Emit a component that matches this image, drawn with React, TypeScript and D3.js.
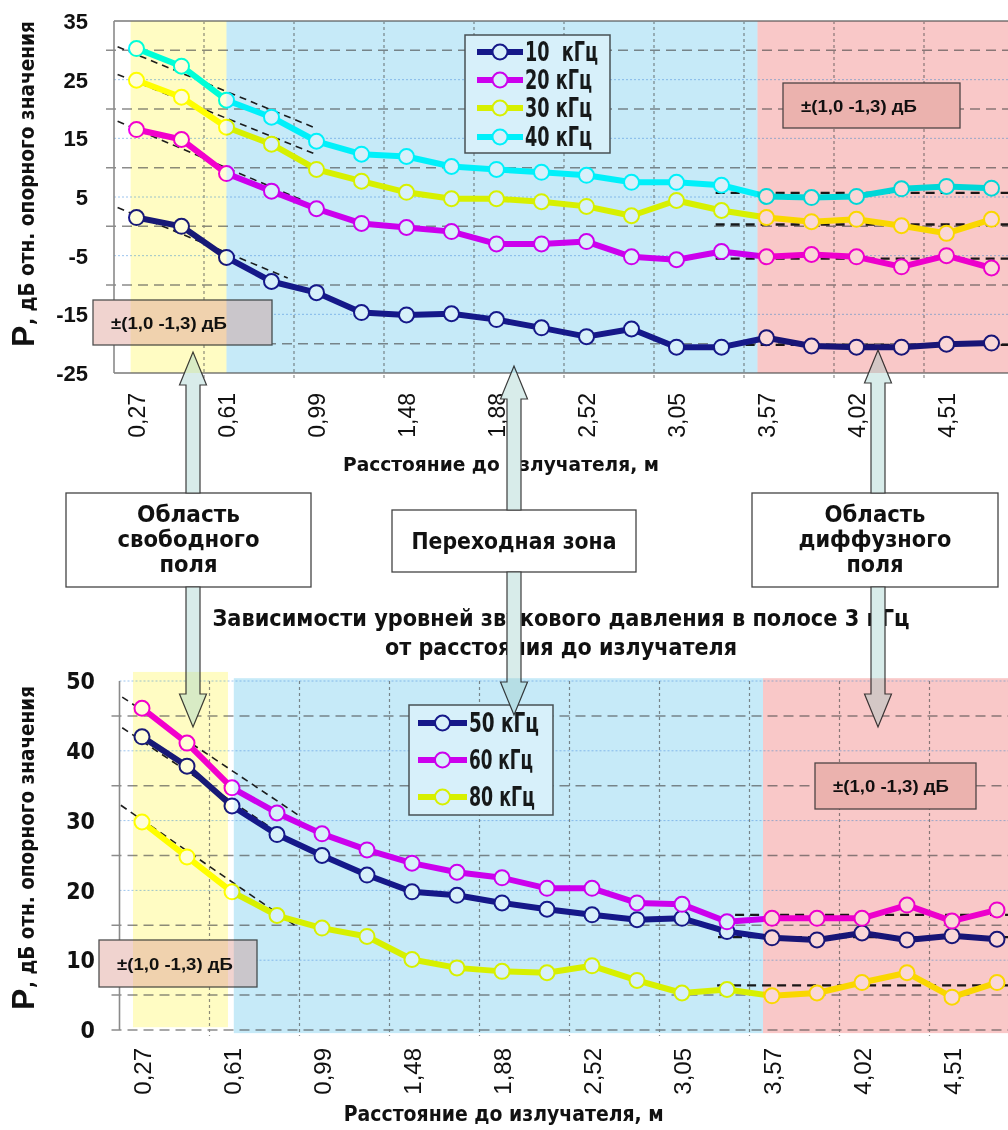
import React, { useEffect, useRef } from 'react';
import * as d3 from 'd3';

const W = 1008;
const H = 1130;

const NARROW = "'Liberation Sans Narrow', 'Arial Narrow', 'DejaVu Sans Condensed', sans-serif";
const SANS = "'Liberation Sans', Arial, sans-serif";

const NAVY = '#18198c';
const MAGENTA = '#f200f2';
const YELLOW = '#ffff00';
const CYAN = '#00ffff';

// distance to the source, m (only every second point is labelled)
const tickLabels = ['0,27', '0,61', '0,99', '1,48', '1,88', '2,52', '3,05', '3,57', '4,02', '4,51'];
const pointCount = 20;

// upper chart, dB rel. reference
const f10 = [1.5, 0.0, -5.3, -9.4, -11.3, -14.7, -15.1, -14.9, -15.9, -17.3, -18.8, -17.5, -20.6, -20.6, -19.0, -20.4, -20.6, -20.6, -20.1, -19.9];
const f20 = [16.5, 14.8, 9.0, 6.0, 3.0, 0.5, -0.2, -0.9, -3.0, -3.0, -2.6, -5.2, -5.7, -4.3, -5.2, -4.8, -5.2, -6.9, -5.0, -7.1];
const f30 = [24.9, 22.0, 16.9, 14.0, 9.7, 7.7, 5.8, 4.7, 4.7, 4.2, 3.4, 1.8, 4.4, 2.7, 1.5, 0.8, 1.2, 0.1, -1.2, 1.2];
const f40 = [30.3, 27.3, 21.5, 18.6, 14.5, 12.3, 11.9, 10.2, 9.7, 9.2, 8.7, 7.5, 7.5, 7.0, 5.1, 4.9, 5.1, 6.4, 6.8, 6.5];

// lower chart
const f50 = [42.0, 37.8, 32.1, 28.0, 25.0, 22.2, 19.8, 19.3, 18.2, 17.3, 16.5, 15.8, 16.0, 14.1, 13.2, 12.9, 13.9, 12.9, 13.5, 13.0];
const f60 = [46.1, 41.1, 34.7, 31.1, 28.1, 25.8, 23.9, 22.6, 21.8, 20.3, 20.3, 18.2, 18.0, 15.5, 16.0, 16.0, 16.0, 17.9, 15.6, 17.2];
const f80 = [29.8, 24.8, 19.8, 16.4, 14.6, 13.4, 10.1, 8.9, 8.4, 8.2, 9.2, 7.1, 5.3, 5.8, 4.9, 5.3, 6.8, 8.2, 4.7, 6.8];

// free-field slopes [i1, v1, i2, v2] and diffuse-field levels [iStart, v]
const topSlopes = [[-0.42, 30.6, 3.93, 16.9], [-0.42, 25.9, 3.98, 12.3], [-0.42, 17.9, 3.64, 4.6], [-0.42, 3.2, 3.36, -8.8]];
const topLevels = [[12.87, 5.7], [12.87, 0.3], [12.87, -5.5], [12.87, -20.2]];
const bottomSlopes = [[-0.44, 47.7, 3.47, 30.8], [-0.44, 43.3, 3.51, 26.2], [-0.47, 32.2, 3.44, 14.8]];
const bottomLevels = [[13.18, 16.5], [12.8, 13.3], [12.78, 6.4]];

// zones [i1, i2, vTop, vBottom]: free field, transition, diffuse field
const topZones = [[-0.13, 2.0, 35, -25], [2.0, 13.8, 35, -25], [13.8, 19.8, 35, -25]];
const bottomZones = [[-0.2, 1.91, 51.3, 0.4], [2.04, 13.8, 50.4, -0.45], [13.8, 19.8, 50.4, -0.45]];
const zoneColors = [
  { base: '#fffde8', tint: '#fffed7' },
  { base: '#ebf9fd', tint: '#d7f0fa' },
  { base: '#feeeee', tint: '#fad7d7' }
];

const topSeries = [
  { label: '10  кГц', color: NAVY, values: f10, len: 73 },
  { label: '20 кГц', color: MAGENTA, values: f20, len: 67 },
  { label: '30 кГц', color: YELLOW, values: f30, len: 67 },
  { label: '40 кГц', color: CYAN, values: f40, len: 67 }
];
const bottomSeries = [
  { label: '50 кГц', color: NAVY, values: f50, len: 70 },
  { label: '60 кГц', color: MAGENTA, values: f60, len: 64 },
  { label: '80 кГц', color: YELLOW, values: f80, len: 66 }
];

const NOTE = '±(1,0 -1,3) дБ';

const topPanel = {
  x0: 114,
  step: 45,
  y: d3.scaleLinear().domain([-25, 35]).range([373, 21]),
  ticks: [35, 25, 15, 5, -5, -15, -25],
  major: [30, 20, 10, 0, -10, -20],
  minor: [25, 15, 5, -5, -15],
  solid: [35, -25],
  zones: topZones,
  series: topSeries,
  slopes: topSlopes,
  levels: topLevels,
  legend: { x: 465, y: 35, w: 145, h: 118, rows: [52, 80, 108, 137], lx1: 477, lx2: 523, tx: 525 },
  notes: [{ x: 783, y: 83, w: 177, h: 45 }, { x: 93, y: 300, w: 179, h: 45 }],
  tickY: 393,
  tickSize: 23,
  yLabelX: 88,
  yLabelFont: SANS,
  yLabelSize: 22,
  title: { y: 471, len: 316, size: 20 },
  yTitle: { p: 347, rest: 325, len: 304 }
};

const bottomPanel = {
  x0: 119.5,
  step: 45,
  y: d3.scaleLinear().domain([0, 50]).range([1030, 681]),
  ticks: [50, 40, 30, 20, 10, 0],
  major: [45, 35, 25, 15, 5, 0],
  minor: [50, 40, 30, 20, 10],
  solid: [],
  zones: bottomZones,
  series: bottomSeries,
  slopes: bottomSlopes,
  levels: bottomLevels,
  legend: { x: 409, y: 705, w: 144, h: 110, rows: [723, 760, 797], lx1: 418, lx2: 467, tx: 469 },
  notes: [{ x: 99, y: 940, w: 158, h: 47 }, { x: 815, y: 763, w: 161, h: 46 }],
  tickY: 1048,
  tickSize: 24,
  yLabelX: 95,
  yLabelFont: NARROW,
  yLabelSize: 23,
  title: { y: 1121, len: 320, size: 22 },
  yTitle: { p: 1010, rest: 988, len: 302 }
};

function drawPanel(svg, p) {
  const x = d3.scaleLinear().domain([-0.5, pointCount - 0.5]).range([p.x0, p.x0 + pointCount * p.step]);
  const y = p.y;
  const [vBot, vTop] = y.domain();
  const xEnd = x(19.8);
  const g = svg.append('g');

  g.selectAll(null).data(p.zones).join('rect')
    .attr('x', d => x(d[0]))
    .attr('y', d => y(d[2]))
    .attr('width', d => x(d[1]) - x(d[0]))
    .attr('height', d => y(d[3]) - y(d[2]))
    .attr('fill', (d, i) => zoneColors[i].base);

  g.selectAll(null).data(p.minor).join('line')
    .attr('x1', p.x0).attr('x2', xEnd)
    .attr('y1', d => y(d)).attr('y2', d => y(d))
    .attr('stroke', '#9cc4ee').attr('stroke-width', 1)
    .attr('stroke-dasharray', '2,2');

  g.selectAll(null).data(p.major).join('line')
    .attr('x1', p.x0 - 8).attr('x2', xEnd)
    .attr('y1', d => y(d)).attr('y2', d => y(d))
    .attr('stroke', '#8c8c8c').attr('stroke-width', 1.5)
    .attr('stroke-dasharray', '10,6');

  g.selectAll(null).data(d3.range(1.5, 19, 2)).join('line')
    .attr('x1', d => x(d)).attr('x2', d => x(d))
    .attr('y1', y(vTop)).attr('y2', y(vBot) + 6)
    .attr('stroke', '#8c8c8c').attr('stroke-width', 1.2)
    .attr('stroke-dasharray', '3,3');

  g.selectAll(null).data(p.solid).join('line')
    .attr('x1', p.x0).attr('x2', xEnd)
    .attr('y1', d => y(d)).attr('y2', d => y(d))
    .attr('stroke', '#9a9a9a').attr('stroke-width', 2);

  g.append('line')
    .attr('x1', p.x0).attr('x2', p.x0)
    .attr('y1', y(vTop)).attr('y2', y(vBot))
    .attr('stroke', '#8a8a8a').attr('stroke-width', 1.6);

  // dashed guide lines
  g.selectAll(null).data(p.slopes).join('line')
    .attr('x1', d => x(d[0])).attr('y1', d => y(d[1]))
    .attr('x2', d => x(d[2])).attr('y2', d => y(d[3]))
    .attr('stroke', '#1e1e1e').attr('stroke-width', 1.6)
    .attr('stroke-dasharray', '7,5');

  g.selectAll(null).data(p.levels).join('line')
    .attr('x1', d => x(d[0])).attr('x2', xEnd)
    .attr('y1', d => y(d[1])).attr('y2', d => y(d[1]))
    .attr('stroke', '#1a1a1a').attr('stroke-width', 2.4)
    .attr('stroke-dasharray', '9,6');

  const line = d3.line().x((d, i) => x(i)).y(d => y(d));
  p.series.forEach(s => {
    g.append('path')
      .attr('d', line(s.values))
      .attr('fill', 'none')
      .attr('stroke', s.color)
      .attr('stroke-width', 6)
      .attr('stroke-linejoin', 'round');
    g.selectAll(null).data(s.values).join('circle')
      .attr('cx', (d, i) => x(i))
      .attr('cy', d => y(d))
      .attr('r', 7.5)
      .attr('fill', '#fff')
      .attr('stroke', s.color)
      .attr('stroke-width', 2);
  });

  // legend
  const lg = p.legend;
  g.append('rect')
    .attr('x', lg.x).attr('y', lg.y).attr('width', lg.w).attr('height', lg.h)
    .attr('fill', '#fff').attr('stroke', '#555').attr('stroke-width', 1.5);
  p.series.forEach((s, k) => {
    const cy = lg.rows[k];
    g.append('line')
      .attr('x1', lg.lx1).attr('x2', lg.lx2).attr('y1', cy).attr('y2', cy)
      .attr('stroke', s.color).attr('stroke-width', 6);
    g.append('circle')
      .attr('cx', (lg.lx1 + lg.lx2) / 2).attr('cy', cy).attr('r', 7.5)
      .attr('fill', '#fff').attr('stroke', s.color).attr('stroke-width', 2);
    g.append('text')
      .attr('x', lg.tx).attr('y', cy + 9)
      .attr('font-family', NARROW).attr('font-weight', 'bold').attr('font-size', 26)
      .attr('fill', '#1a1a1a')
      .attr('textLength', s.len).attr('lengthAdjust', 'spacingAndGlyphs')
      .style('white-space', 'pre')
      .text(s.label);
  });

  // tolerance notes
  p.notes.forEach(n => {
    g.append('rect')
      .attr('x', n.x).attr('y', n.y).attr('width', n.w).attr('height', n.h)
      .attr('fill', '#f0d3cf').attr('stroke', '#505050').attr('stroke-width', 1.3);
    g.append('text')
      .attr('x', n.x + 18).attr('y', n.y + n.h / 2 + 6)
      .attr('font-family', SANS).attr('font-weight', 'bold').attr('font-size', 17)
      .attr('fill', '#111')
      .attr('textLength', 116).attr('lengthAdjust', 'spacingAndGlyphs')
      .text(NOTE);
  });

  // axes text
  g.selectAll(null).data(p.ticks).join('text')
    .attr('x', p.yLabelX).attr('y', d => y(d)).attr('dy', '0.36em')
    .attr('text-anchor', 'end')
    .attr('font-family', p.yLabelFont).attr('font-weight', 'bold').attr('font-size', p.yLabelSize)
    .attr('fill', '#111')
    .text(d => d);

  g.selectAll(null).data(tickLabels).join('text')
    .attr('transform', (d, k) => `translate(${x(k * 2)},${p.tickY}) rotate(-90)`)
    .attr('dy', '0.36em')
    .attr('text-anchor', 'end')
    .attr('font-family', SANS).attr('font-size', p.tickSize)
    .attr('fill', '#111')
    .text(d => d);

  g.append('text')
    .attr('x', (p.x0 + 1008) / 2 - 60).attr('y', p.title.y)
    .attr('text-anchor', 'middle')
    .attr('font-family', NARROW).attr('font-weight', 'bold').attr('font-size', p.title.size)
    .attr('fill', '#111')
    .attr('textLength', p.title.len).attr('lengthAdjust', 'spacingAndGlyphs')
    .text('Расстояние до излучателя, м');

  g.append('text')
    .attr('transform', `translate(34,${p.yTitle.p}) rotate(-90)`)
    .attr('font-family', SANS).attr('font-weight', 'bold').attr('font-size', 32)
    .attr('fill', '#111')
    .text('P');
  g.append('text')
    .attr('transform', `translate(34,${p.yTitle.rest}) rotate(-90)`)
    .attr('font-family', NARROW).attr('font-weight', 'bold').attr('font-size', 22)
    .attr('fill', '#111')
    .attr('textLength', p.yTitle.len).attr('lengthAdjust', 'spacingAndGlyphs')
    .text(', дБ отн. опорного значения');

  return x;
}

function drawTint(svg, p, x) {
  const y = p.y;
  svg.append('g')
    .selectAll(null).data(p.zones).join('rect')
    .attr('x', d => x(d[0]))
    .attr('y', d => y(d[2]))
    .attr('width', d => x(d[1]) - x(d[0]))
    .attr('height', d => y(d[3]) - y(d[2]))
    .attr('fill', (d, i) => zoneColors[i].tint)
    .style('mix-blend-mode', 'multiply');
}

function arrowPath(cx, from, tip, shaft, head, headLen) {
  const s = tip < from ? 1 : -1;
  const b = tip + s * headLen;
  return `M${cx - shaft / 2},${from}L${cx - shaft / 2},${b}L${cx - head / 2},${b}L${cx},${tip}` +
    `L${cx + head / 2},${b}L${cx + shaft / 2},${b}L${cx + shaft / 2},${from}Z`;
}

// label boxes between the charts
const zoneBoxes = [
  { x: 66, y: 493, w: 245, h: 94, lines: ['Область', 'свободного', 'поля'], lens: [103, 142, 58] },
  { x: 392, y: 510, w: 244, h: 62, lines: ['Переходная зона'], lens: [205] },
  { x: 752, y: 493, w: 246, h: 94, lines: ['Область', 'диффузного', 'поля'], lens: [101, 153, 57] }
];
// [x, start, tip]
const arrows = [
  [193, 493, 352], [193, 587, 727],
  [514, 510, 366], [514, 572, 715],
  [878, 493, 350], [878, 587, 727]
];

function createFigure(node) {
  const svg = d3.select(node);
  svg.selectAll('*').remove();
  svg.append('rect').attr('width', W).attr('height', H).attr('fill', '#fff');

  const xTop = drawPanel(svg, topPanel);
  const xBottom = drawPanel(svg, bottomPanel);

  const title = ['Зависимости уровней звукового давления в полосе 3 кГц', 'от расстояния до излучателя'];
  const titleLens = [697, 352];
  title.forEach((t, k) => {
    svg.append('text')
      .attr('x', 561).attr('y', 626 + k * 29)
      .attr('text-anchor', 'middle')
      .attr('font-family', NARROW).attr('font-weight', 'bold').attr('font-size', 23)
      .attr('fill', '#111')
      .attr('textLength', titleLens[k]).attr('lengthAdjust', 'spacingAndGlyphs')
      .text(t);
  });

  zoneBoxes.forEach(b => {
    svg.append('rect')
      .attr('x', b.x).attr('y', b.y).attr('width', b.w).attr('height', b.h)
      .attr('fill', '#fff').attr('stroke', '#444').attr('stroke-width', 1.3);
    const first = b.lines.length === 1 ? b.y + b.h / 2 + 8 : b.y + 29;
    b.lines.forEach((t, k) => {
      svg.append('text')
        .attr('x', b.x + b.w / 2).attr('y', first + k * 25)
        .attr('text-anchor', 'middle')
        .attr('font-family', NARROW).attr('font-weight', 'bold').attr('font-size', 23)
        .attr('fill', '#111')
        .attr('textLength', b.lens[k]).attr('lengthAdjust', 'spacingAndGlyphs')
        .text(t);
    });
  });

  svg.append('g')
    .selectAll(null).data(arrows).join('path')
    .attr('d', d => arrowPath(d[0], d[1], d[2], 14, 27, 33))
    .attr('fill', '#d8ecea')
    .attr('stroke', '#3c3c3c')
    .attr('stroke-width', 1.2);

  drawTint(svg, topPanel, xTop);
  drawTint(svg, bottomPanel, xBottom);
}

export default function App() {
  const ref = useRef(null);
  useEffect(() => {
    try {
      createFigure(ref.current);
    } catch (err) {
      console.error(err);
    }
  }, []);
  return (
    <svg
      ref={ref}
      width={W}
      height={H}
      viewBox={`0 0 ${W} ${H}`}
      style={{ position: 'absolute', left: 0, top: 0, display: 'block' }}
    />
  );
}
